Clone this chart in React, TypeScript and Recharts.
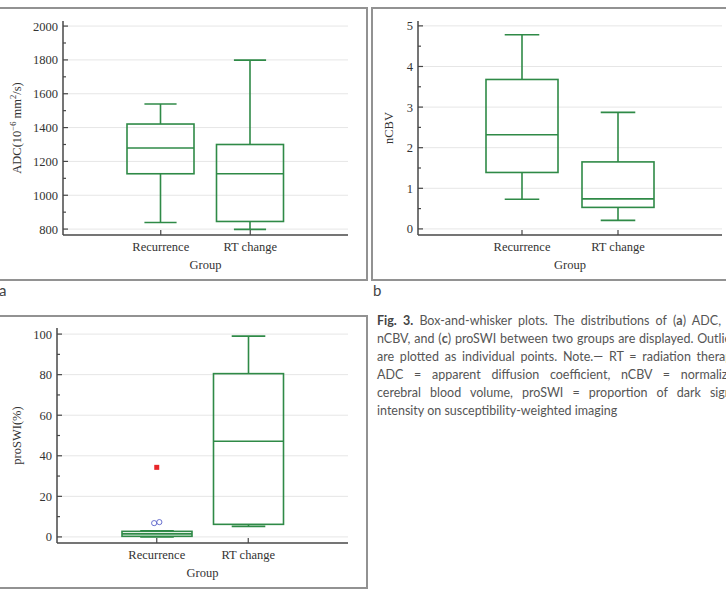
import React from "react"
import { ComposedChart, Bar, Line, XAxis, YAxis, CartesianGrid, Label } from "recharts"

const groups = ["Recurrence", "RT change"]

// ADC (10^-6 mm²/s) five-number summaries, one entry per group
const adcMin = [839, 798]
const adcQ1 = [1127, 845]
const adcMedian = [1279, 1127]
const adcQ3 = [1421, 1300]
const adcMax = [1539, 1799]

// nCBV
const nCbvMin = [0.73, 0.21]
const nCbvQ1 = [1.39, 0.53]
const nCbvMedian = [2.32, 0.74]
const nCbvQ3 = [3.68, 1.65]
const nCbvMax = [4.78, 2.87]

// proSWI (%)
const proSwiMin = [0, 5.2]
const proSwiQ1 = [0.3, 6.2]
const proSwiMedian = [1.5, 47.2]
const proSwiQ3 = [2.75, 80.5]
const proSwiMax = [3.0, 99]
const proSwiOutliers = [[6.8, 7.3], []]
const proSwiFarOutliers = [[34.3], []]

const adcMajorTicks = [800, 1000, 1200, 1400, 1600, 1800, 2000]
const adcMinorTicks = [900, 1100, 1300, 1500, 1700, 1900]
const nCbvMajorTicks = [0, 1, 2, 3, 4, 5]
const nCbvMinorTicks = [0.5, 1.5, 2.5, 3.5, 4.5]
const proSwiMajorTicks = [0, 20, 40, 60, 80, 100]
const proSwiMinorTicks = [10, 30, 50, 70, 90]

const GREEN = "#2f8a47"
const AXIS = "#474747"
const TEXT = "#333"
const GRID = "#e6e6e6"
const FRAME = "#929292"
const SERIF = "'Liberation Serif', 'Times New Roman', serif"
const SANS = "Lato, 'Open Sans', sans-serif"

const Y_TICK_MARGIN = 5
const X_TICK_MARGIN = 7

interface BoxRow {
  group: string
  min: number
  q1: number
  median: number
  q3: number
  max: number
  [key: string]: any
}

const buildRows = (min: number[], q1: number[], median: number[], q3: number[], max: number[]): BoxRow[] =>
  groups.map((group, i) => ({ group, min: min[i], q1: q1[i], median: median[i], q3: q3[i], max: max[i] }))

const adcRows = buildRows(adcMin, adcQ1, adcMedian, adcQ3, adcMax)
const nCbvRows = buildRows(nCbvMin, nCbvQ1, nCbvMedian, nCbvQ3, nCbvMax)
const proSwiRows = buildRows(proSwiMin, proSwiQ1, proSwiMedian, proSwiQ3, proSwiMax).map((row, i) => ({
  ...row,
  mild0: proSwiOutliers[i][0],
  mild1: proSwiOutliers[i][1],
  far0: proSwiFarOutliers[i][0],
}))

// The bar spans q1..q3; whiskers and median are placed with the same pixel/unit ratio
const BoxShape = (props: any) => {
  const { x, y, width, height, payload } = props
  if (!payload || !height) return <g />
  const { min, q1, median, q3, max } = payload
  const k = height / (q3 - q1)
  const py = (v: number) => y + (q3 - v) * k
  const cx = x + width / 2
  const cap = width * 0.24
  const s = { stroke: GREEN, strokeWidth: 1.6, fill: "none" }
  return (
    <g>
      <line x1={cx} x2={cx} y1={py(q3)} y2={py(max)} {...s} />
      <line x1={cx - cap} x2={cx + cap} y1={py(max)} y2={py(max)} {...s} />
      <line x1={cx} x2={cx} y1={py(q1)} y2={py(min)} {...s} />
      <line x1={cx - cap} x2={cx + cap} y1={py(min)} y2={py(min)} {...s} />
      <rect x={x} y={y} width={width} height={height} {...s} />
      <line x1={x} x2={x + width} y1={py(median)} y2={py(median)} {...s} />
    </g>
  )
}

const makeYTick = (majors: number[]) => (props: any) => {
  const { x, y, payload } = props
  const axisX = x + Y_TICK_MARGIN
  const major = majors.includes(payload.value)
  return (
    <g>
      <line x1={axisX} x2={axisX + (major ? 5 : 3)} y1={y} y2={y} stroke={AXIS} strokeWidth={1.2} />
      {major && (
        <text x={x} y={y} dy="0.355em" textAnchor="end" fontFamily={SERIF} fontSize={12.5} fill={TEXT}>
          {payload.value}
        </text>
      )}
    </g>
  )
}

const XTick = (props: any) => {
  const { x, y, payload } = props
  const axisY = y - X_TICK_MARGIN
  return (
    <g>
      <line x1={x} x2={x} y1={axisY} y2={axisY - 5} stroke={AXIS} strokeWidth={1.2} />
      <text x={x} y={y} dy="0.71em" textAnchor="middle" fontFamily={SERIF} fontSize={12.5} fill={TEXT}>
        {payload.value}
      </text>
    </g>
  )
}

const yTitle = (content: React.ReactNode) => (props: any) => {
  const { viewBox } = props
  const cx = viewBox.x + 17
  const cy = viewBox.y + viewBox.height / 2
  return (
    <text x={cx} y={cy} dy="0.35em" transform={`rotate(-90 ${cx} ${cy})`} textAnchor="middle"
      fontFamily={SERIF} fontSize={12.5} fill={TEXT}>
      {content}
    </text>
  )
}

const xTitle = (props: any) => {
  const { viewBox } = props
  return (
    <text x={viewBox.x + viewBox.width / 2} y={viewBox.y + 34} textAnchor="middle"
      fontFamily={SERIF} fontSize={12.5} fill={TEXT}>
      Group
    </text>
  )
}

const mildDot = (dx: number) => (props: any) => {
  const { cx, cy, value, index } = props
  if (value == null || cy == null || isNaN(cy)) return <g key={`m-${index}`} />
  return <circle key={`m-${index}`} cx={cx + dx} cy={cy} r={2.6} fill="none" stroke="#5b63c9" strokeWidth={0.9} />
}

const farDot = (props: any) => {
  const { cx, cy, value, index } = props
  if (value == null || cy == null || isNaN(cy)) return <g key={`f-${index}`} />
  return <rect key={`f-${index}`} x={cx - 2.5} y={cy - 2.5} width={5} height={5} fill="#e8262a" />
}

interface BoxPanelProps {
  rows: BoxRow[]
  width: number
  height: number
  yAxisWidth: number
  margin: { top: number; right: number; left: number; bottom: number }
  domain: [number, number]
  majorTicks: number[]
  minorTicks: number[]
  yLabel: React.ReactNode
  padding: number
  barSize: number
  outliers?: boolean
}

const BoxPanel = ({ rows, width, height, yAxisWidth, margin, domain, majorTicks, minorTicks, yLabel, padding, barSize, outliers }: BoxPanelProps) => {
  const ticks = [...majorTicks, ...minorTicks].sort((a, b) => a - b)
  return (
    <ComposedChart width={width} height={height} data={rows} margin={margin}>
      <CartesianGrid vertical={false} horizontalValues={majorTicks} stroke={GRID} />
      <XAxis dataKey="group" type="category" height={45} padding={{ left: padding, right: padding }}
        axisLine={{ stroke: AXIS, strokeWidth: 1.5 }} tickLine={false} tickSize={0} tickMargin={X_TICK_MARGIN}
        tick={<XTick />} interval={0}>
        <Label content={xTitle} />
      </XAxis>
      <YAxis type="number" width={yAxisWidth} domain={domain} ticks={ticks} allowDataOverflow
        axisLine={{ stroke: AXIS, strokeWidth: 1.5 }} tickLine={false} tickSize={0} tickMargin={Y_TICK_MARGIN}
        tick={makeYTick(majorTicks)} interval={0}>
        <Label content={yTitle(yLabel)} />
      </YAxis>
      <Bar dataKey={(d: BoxRow) => [d.q1, d.q3]} barSize={barSize} shape={BoxShape} isAnimationActive={false} />
      {outliers && (
        <Line dataKey="far0" stroke="none" dot={farDot} activeDot={false} isAnimationActive={false} legendType="none" />
      )}
      {outliers && (
        <Line dataKey="mild0" stroke="none" dot={mildDot(-2.6)} activeDot={false} isAnimationActive={false} legendType="none" />
      )}
      {outliers && (
        <Line dataKey="mild1" stroke="none" dot={mildDot(2.6)} activeDot={false} isAnimationActive={false} legendType="none" />
      )}
    </ComposedChart>
  )
}

const captionLine: React.CSSProperties = { textAlign: "justify", textAlignLast: "justify" }

export default function App() {
  return (
    <div style={{ position: "absolute", left: 0, top: 0, width: 726, height: 594, overflow: "hidden", background: "#fff" }}>
      {/* panel frames */}
      <div style={{ position: "absolute", left: -4, top: 7, width: 372, height: 274, border: `2px solid ${FRAME}`, boxSizing: "border-box" }} />
      <div style={{ position: "absolute", left: 371, top: 7, width: 370, height: 274, border: `2px solid ${FRAME}`, boxSizing: "border-box" }} />
      <div style={{ position: "absolute", left: -4, top: 315, width: 372, height: 274, border: `2px solid ${FRAME}`, boxSizing: "border-box" }} />

      <div style={{ position: "absolute", left: 0, top: 0 }}>
        <BoxPanel rows={adcRows} width={370} height={280} yAxisWidth={63}
          margin={{ top: 21, right: 22, left: 0, bottom: 0 }} domain={[765, 2030]}
          majorTicks={adcMajorTicks} minorTicks={adcMinorTicks} padding={53} barSize={67}
          yLabel={<>ADC(10<tspan dy={-5} fontSize={8.5}>−6</tspan><tspan dy={5}> mm</tspan><tspan dy={-5} fontSize={8.5}>2</tspan><tspan dy={5}>/s)</tspan></>} />
      </div>
      <div style={{ position: "absolute", left: 372, top: 0 }}>
        <BoxPanel rows={nCbvRows} width={354} height={280} yAxisWidth={46}
          margin={{ top: 21, right: 4, left: 0, bottom: 0 }} domain={[-0.15, 5.12]}
          majorTicks={nCbvMajorTicks} minorTicks={nCbvMinorTicks} padding={56} barSize={72}
          yLabel="nCBV" />
      </div>
      <div style={{ position: "absolute", left: 0, top: 305 }}>
        <BoxPanel rows={proSwiRows} width={370} height={283} yAxisWidth={57}
          margin={{ top: 23, right: 22, left: 0, bottom: 0 }} domain={[-3, 103]}
          majorTicks={proSwiMajorTicks} minorTicks={proSwiMinorTicks} padding={54} barSize={70}
          yLabel="proSWI(%)" outliers />
      </div>

      <div style={{ position: "absolute", left: -1, top: 281, fontFamily: SANS, fontSize: 15, color: "#444" }}>a</div>
      <div style={{ position: "absolute", left: 373, top: 281, fontFamily: SANS, fontSize: 15, color: "#444" }}>b</div>

      <div style={{ position: "absolute", left: 377, top: 312, width: 364, fontFamily: SANS, fontSize: 12.5, lineHeight: "18px", color: "#555" }}>
        <div style={captionLine}><b style={{ color: "#444" }}>Fig. 3.</b> Box-and-whisker plots. The distributions of (<b>a</b>) ADC, (<b>b</b>)</div>
        <div style={captionLine}>nCBV, and (<b>c</b>) proSWI between two groups are displayed. Outliers</div>
        <div style={captionLine}>are plotted as individual points. Note.— RT = radiation therapy,</div>
        <div style={captionLine}>ADC = apparent diffusion coefficient, nCBV = normalized</div>
        <div style={captionLine}>cerebral blood volume, proSWI = proportion of dark signal</div>
        <div>intensity on susceptibility-weighted imaging</div>
      </div>
    </div>
  )
}
